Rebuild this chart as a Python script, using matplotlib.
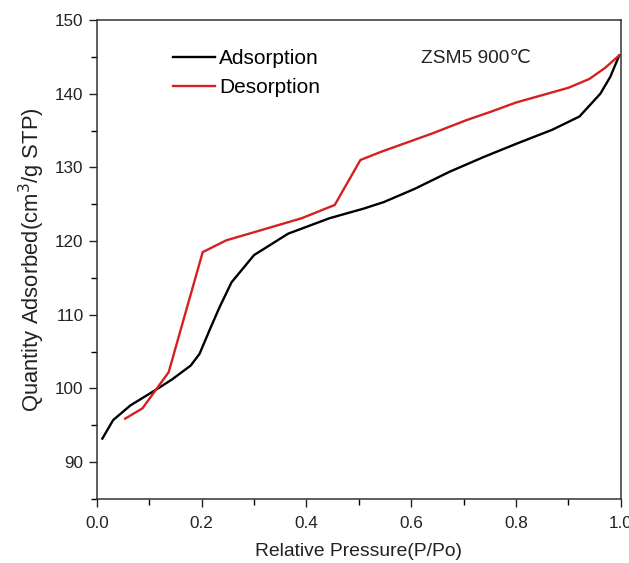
import matplotlib
matplotlib.use("Agg")
import matplotlib.pyplot as plt
from matplotlib.ticker import MultipleLocator

plt.rcParams['font.family'] = ['Liberation Sans', 'DejaVu Sans']

ads_p = [0.0105, 0.031, 0.064, 0.11, 0.143, 0.179, 0.196, 0.215, 0.234, 0.257, 0.30, 0.365,
         0.444, 0.509, 0.548, 0.607, 0.673, 0.738, 0.804, 0.869, 0.921, 0.961, 0.98, 0.997]
ads_v = [93.2, 95.7, 97.7, 99.7, 101.2, 103.1, 104.7, 107.9, 111.0, 114.4, 118.1, 121.0,
         123.1, 124.4, 125.3, 127.1, 129.4, 131.4, 133.3, 135.1, 136.9, 140.0, 142.3, 145.2]

des_p = [0.054, 0.087, 0.137, 0.202, 0.247, 0.30, 0.391, 0.454, 0.503, 0.542, 0.64, 0.705,
         0.75, 0.80, 0.85, 0.90, 0.94, 0.97, 0.997]
des_v = [95.9, 97.3, 102.2, 118.5, 120.1, 121.2, 123.1, 124.9, 131.0, 132.1, 134.6, 136.4,
         137.5, 138.8, 139.8, 140.8, 142.0, 143.5, 145.2]

fig = plt.figure(figsize=(6.29, 5.63), dpi=100)
ax = fig.add_axes([0.154, 0.1137, 0.833, 0.8508])
ax.plot(ads_p, ads_v, color='black', lw=1.7, label='Adsorption')
ax.plot(des_p, des_v, color='#d42020', lw=1.7, label='Desorption')

ax.set_xlim(0, 1.0)
ax.set_ylim(85, 150)
ax.xaxis.set_major_locator(MultipleLocator(0.2))
ax.xaxis.set_minor_locator(MultipleLocator(0.1))
ax.yaxis.set_major_locator(MultipleLocator(10))
ax.yaxis.set_minor_locator(MultipleLocator(5))
ax.set_yticks([90, 100, 110, 120, 130, 140, 150])
ax.tick_params(which='major', direction='out', length=6, width=1, labelsize=12.3, colors='#222222')
ax.tick_params(axis='x', which='major', pad=6)
ax.tick_params(which='minor', direction='out', length=4, width=1)
for s in ax.spines.values():
    s.set_linewidth(1.1)
    s.set_color('#333333')

ax.set_xlabel('Relative Pressure(P/Po)', fontsize=13.9, labelpad=9, color='#222222')
ax.set_ylabel('Quantity Adsorbed(cm$^3$/g STP)', fontsize=15.8, labelpad=6, color='#222222')

leg = ax.legend(loc='upper left', bbox_to_anchor=(0.11, 0.978), frameon=False, fontsize=15,
                handlelength=2.0, handletextpad=0.2, labelspacing=0.47)
ax.text(0.618, 0.92, 'ZSM5 900℃', transform=ax.transAxes, fontsize=13.8, color='#222222',
        va='center', ha='left')

fig.savefig('out.png', dpi=100)
